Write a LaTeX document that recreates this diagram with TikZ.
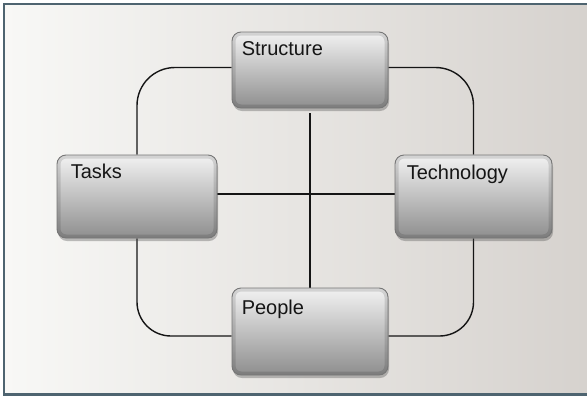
\documentclass[tikz,border=0pt]{standalone}
\usepackage{fontspec}
\setmainfont{Liberation Sans}
\usetikzlibrary{shadows}
\pgfdeclarelayer{back}
\pgfdeclarelayer{lines}
\pgfsetlayers{back,lines,main}
\definecolor{framec}{HTML}{4E6470}
\definecolor{bgl}{HTML}{F8F8F6}
\definecolor{bgr}{HTML}{D6D2CE}
\definecolor{boxtop}{HTML}{F2F2F2}
\definecolor{boxmid}{HTML}{D8D8D8}
\definecolor{boxbot}{HTML}{8E8E8E}
\definecolor{boxedge}{HTML}{767676}
\definecolor{ink}{HTML}{151515}
\tikzset{
  x=1pt, y=-1pt,
  gbox/.style={draw=boxedge, line width=0.9pt, rounded corners=9pt,
    top color=boxtop, middle color=boxmid, bottom color=boxbot,
    drop shadow={shadow xshift=1pt, shadow yshift=-3pt, opacity=0.35, fill=black!70},
    path picture={\draw[line width=7pt, black, opacity=0.12, rounded corners=9pt]
      (path picture bounding box.south west) rectangle (path picture bounding box.north east);},
    inner sep=0pt},
  lbl/.style={anchor=west, inner sep=0pt, text height=14pt, text depth=0pt,
    font=\fontsize{20}{23}\selectfont, text=ink},
  conn/.style={draw=ink, line width=1.4pt}
}
\begin{document}
\begin{tikzpicture}
\useasboundingbox (0,0) rectangle (587,397);
\begin{pgfonlayer}{back}
  \fill[white] (0,0) rectangle (587,397);
  \shade[left color=bgl, right color=bgr] (4,4) rectangle (587,393.5);
  \draw[framec, line width=2.2pt] (587,4) -- (4,4) -- (4,394.5) -- (587,394.5);
\end{pgfonlayer}

\node[gbox, minimum width=156pt, minimum height=76pt] (structure) at (310,70) {};
\node[gbox, minimum width=160pt, minimum height=83pt] (tasks) at (137,196.5) {};
\node[gbox, minimum width=157pt, minimum height=83pt] (tech) at (473.5,196.5) {};
\node[gbox, minimum width=156pt, minimum height=87pt] (people) at (310,331.5) {};

\node[lbl] (structuret) at ([xshift=10pt, yshift=-17pt]structure.north west) {Structure};
\node[lbl] (taskst) at ([xshift=14pt, yshift=-17pt]tasks.north west) {Tasks};
\node[lbl] (techt) at ([xshift=12pt, yshift=-18pt]tech.north west) {Technology};
\node[lbl] (peoplet) at ([xshift=10pt, yshift=-20pt]people.north west) {People};

\coordinate (tl) at (137,67.5);
\coordinate (tr) at (473.5,67.5);
\coordinate (bl) at (137,336);
\coordinate (br) at (473.5,336);
\coordinate (cx) at (310,194);

\begin{pgfonlayer}{lines}
  \draw[conn, rounded corners=38pt] (structure.west |- tl) -- (tl) -- (tasks.north);
  \draw[conn, rounded corners=38pt] (structure.east |- tr) -- (tr) -- (tech.north);
  \draw[conn, rounded corners=34pt] (tasks.south) -- (bl) -- (people.west |- bl);
  \draw[conn, rounded corners=34pt] (tech.south) -- (br) -- (people.east |- br);
  \draw[conn] ([yshift=-5pt]structure.south -| cx) -- (people.north -| cx);
  \draw[conn] (tasks.east |- cx) -- (tech.west |- cx);
\end{pgfonlayer}
\end{tikzpicture}
\end{document}
